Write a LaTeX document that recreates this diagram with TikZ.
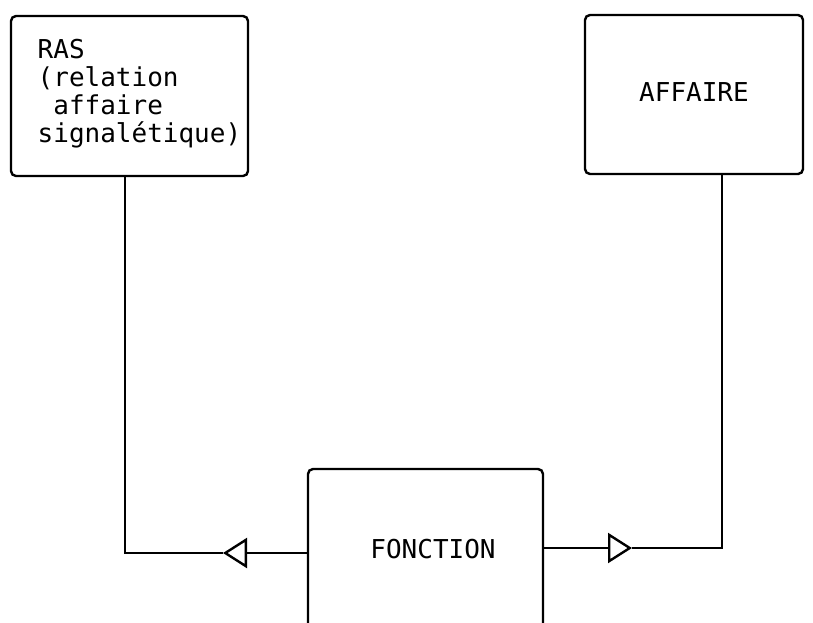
\documentclass[tikz,border=0pt]{standalone}
\usepackage{fontspec}
\newfontfamily\typefont{DejaVu Sans Mono}
\usetikzlibrary{arrows.meta}
\begin{document}
\begin{tikzpicture}[x=1pt,y=-1pt,
  box/.style={draw, line width=2.4pt, rounded corners=5pt, inner sep=0pt},
  lbl/.style={font=\typefont\fontsize{26}{28}\selectfont, inner sep=0pt},
  conn/.style={line width=2.1pt},
  tri/.style={-{Triangle[open,length=24pt,width=30pt,line width=2.4pt]}}]
\useasboundingbox (0,0) rectangle (813,622);
\clip (0,0) rectangle (813,622);
\node[box, minimum width=237pt, minimum height=160pt] (ras) at (129.5,96) {};
\node[lbl, anchor=north west, align=left] (raslabel) at (37.5,39) {RAS\\(relation\\\hphantom{a}affaire\\signalétique)};
\node[box, minimum width=218pt, minimum height=159pt] (affaire) at (694,94.5) {};
\node[lbl, anchor=base] (affairelabel) at (694,101) {AFFAIRE};
\node[box, minimum width=235pt, minimum height=240pt] (fonction) at (425.5,589) {};
\node[lbl, anchor=base] (fonctionlabel) at (433,558) {FONCTION};
\coordinate (c1) at (125,553);
\coordinate (t1) at (223,553);
\coordinate (c2) at (722,548);
\coordinate (t2) at (632,548);
\draw[conn] (ras.south -| c1) -- (c1) -- (t1);
\draw[conn, tri] (fonction.west |- c1) -- (t1);
\draw[conn, tri] (fonction.east |- c2) -- (t2);
\draw[conn] (t2) -- (c2) -- (affaire.south -| c2);
\end{tikzpicture}
\end{document}
